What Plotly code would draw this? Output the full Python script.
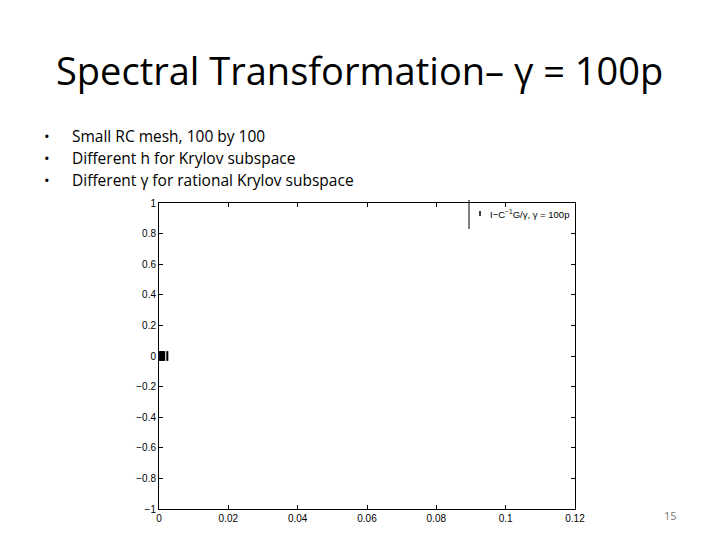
import plotly.graph_objects as go

# eigenvalue points, all bunched at the origin
eig_x = [0.0003, 0.0006, 0.0009, 0.0012, 0.0015, 0.0024]
eig_y = [0, 0, 0, 0, 0, 0]

x_ticks = [0, 0.02, 0.04, 0.06, 0.08, 0.1, 0.12]
x_labels = ["0", "0.02", "0.04", "0.06", "0.08", "0.1", "0.12"]
y_ticks = [-1, -0.8, -0.6, -0.4, -0.2, 0, 0.2, 0.4, 0.6, 0.8, 1]
y_labels = ["\u22121", "\u22120.8", "\u22120.6", "\u22120.4", "\u22120.2", "0",
            "0.2", "0.4", "0.6", "0.8", "1"]

title_text = "Spectral Transformation\u2013 \u03b3 = 100p"
bullets = ["Small RC mesh, 100 by 100",
           "Different h for Krylov subspace",
           "Different \u03b3 for rational Krylov subspace"]
legend_name = "I\u2212C<sup>\u22121</sup>G/\u03b3, \u03b3 = 100p"
page_no = "15"

# page has an 8px body margin, so the figure starts at (8, 8)
OFF = 8
W, H = 720 - OFF, 540 - OFF
L, R, T, B = 159, 575, 203, 509


def px(x):
    return (x - L) / (R - L)


def py(y):
    return (B - y) / (B - T)


fig = go.Figure()
fig.add_trace(go.Scatter(
    x=eig_x, y=eig_y, mode="markers", name=legend_name, showlegend=False,
    marker=dict(symbol="line-ns", size=7, line=dict(width=2, color="black"), color="black"),
))

axis_common = dict(
    showgrid=False, zeroline=False, showline=True, linecolor="black", linewidth=1,
    mirror="ticks", ticks="inside", ticklen=4, tickcolor="black",
    tickfont=dict(family="Liberation Sans", size=10, color="black"),
)
fig.update_xaxes(range=[0, 0.12], tickvals=x_ticks, ticktext=x_labels, **axis_common)
fig.update_yaxes(range=[-1, 1], tickvals=y_ticks, ticktext=y_labels, **axis_common)

ann = [
    dict(text=title_text, x=px(359), y=py(70), font=dict(family="Open Sans", size=38, color="black")),
    dict(text=page_no, x=px(670), y=py(515), font=dict(family="Open Sans", size=11, color="#777777")),
    dict(text=legend_name, x=px(488), y=py(214), xanchor="left",
         font=dict(family="Liberation Sans", size=9.5, color="black")),
]
for i, b in enumerate(bullets):
    yy = 136 + 22 * i
    ann.append(dict(text="\u2022", x=px(47), y=py(yy), font=dict(family="Open Sans", size=15, color="black")))
    ann.append(dict(text=b, x=px(70), y=py(yy), xanchor="left",
                    font=dict(family="Open Sans", size=15.5, color="black")))
for a in ann:
    a.setdefault("xanchor", "center")
    a.update(xref="paper", yref="paper", yanchor="middle", showarrow=False)

fig.update_layout(
    width=W, height=H,
    margin=dict(l=L - OFF, r=720 - R, t=T - OFF, b=540 - B),
    paper_bgcolor="white", plot_bgcolor="white",
    showlegend=False,
    annotations=ann,
    shapes=[
        # legend box edge and its marker sample
        dict(type="line", xref="paper", yref="paper",
             x0=px(469), x1=px(469), y0=py(229), y1=py(200),
             line=dict(color="black", width=1)),
        dict(type="line", xref="paper", yref="paper",
             x0=px(480), x1=px(480), y0=py(216), y1=py(211),
             line=dict(color="black", width=1.5)),
    ],
)

fig.write_html("out.html")
